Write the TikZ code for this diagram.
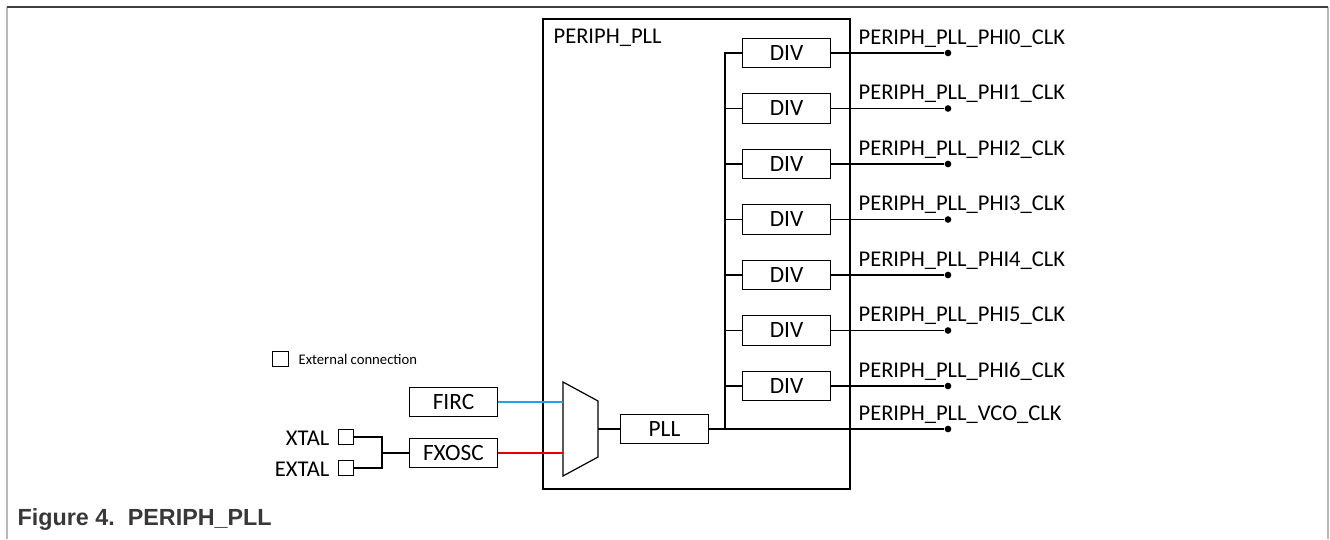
\documentclass[tikz,border=0pt]{standalone}
\usepackage{fontspec}
\setmainfont{Carlito}
\newfontfamily\capfont{Liberation Sans}
\usetikzlibrary{positioning}

\definecolor{fircblue}{RGB}{40,160,220}
\definecolor{oscred}{RGB}{230,0,0}

\begin{document}
\begin{tikzpicture}[x=0.75pt, y=-0.75pt, line width=0.9pt, node distance=41.625pt, on grid,
    txt/.style={inner sep=0pt, font=\fontsize{16.9}{18}\selectfont},
    blk/.style={draw, inner sep=0pt, font=\fontsize{17.5}{19}\selectfont, minimum width=66pt, minimum height=22pt},
    pad/.style={draw, inner sep=0pt, minimum size=11.6pt},
    lbl/.style={txt, anchor=base west},
    dot/.style={circle, fill, inner sep=0pt, minimum size=5pt}]
    \useasboundingbox (0,0) rectangle (1330,539);

    % page frame and caption
    \draw[gray!55, line width=1.4pt] (7,7) -- (7,539);
    \draw[gray!55, line width=1.4pt] (1328,7) -- (1328,539);
    \draw[black!75, line width=1.1pt] (7,7) -- (1328,7);
    \node[anchor=base west, inner sep=0pt, text=black!78,
          font=\capfont\bfseries\fontsize{17.5}{20}\selectfont] (caption) at (17,525) {Figure 4.\ \ PERIPH\_PLL};

    % PLL block
    \node[draw, inner sep=0pt, minimum width=230.25pt, minimum height=352.5pt] (periph) at (696.5,254) {};
    \node[lbl] (title) at (553,43) {PERIPH\_PLL};

    \node[blk] (div0) at (786.5,53) {DIV};
    \node[blk] (div1) [below=of div0] {DIV};
    \node[blk] (div2) [below=of div1] {DIV};
    \node[blk] (div3) [below=of div2] {DIV};
    \node[blk] (div4) [below=of div3] {DIV};
    \node[blk] (div5) [below=of div4] {DIV};
    \node[blk] (div6) [below=of div5] {DIV};

    \node[blk] (pll) at (664.5,429) {PLL};
    \coordinate (m1) at (563,382);
    \coordinate (m2) at (598,401);
    \coordinate (m3) at (598,457);
    \coordinate (m4) at (563,476);
    \draw (m1) -- (m2) -- (m3) -- (m4) -- cycle;
    \coordinate (muxout) at (598,429);
    \draw (muxout) -- (pll.west);

    % outputs
    \node[dot] (vco) at (948,429) {};
    \node[lbl] (vcolbl) at ([shift={(-90,-9)}]vco) {PERIPH\_PLL\_VCO\_CLK};
    \coordinate (bus) at (725,429);
    \draw (pll.east) -- (vco);
    \draw (bus) -- (bus |- div0.west) -- (div0.west);
    \foreach \k in {1,...,6}
        \draw (bus |- div\k.west) -- (div\k.west);
    \foreach \k in {0,...,6} {
        \node[dot] (o\k) at (div\k.east -| vco) {};
        \draw (div\k.east) -- (o\k);
        \node[lbl] (l\k) at ([shift={(-90,-9)}]o\k) {PERIPH\_PLL\_PHI\k\_CLK};
    }

    % sources
    \node[blk] (firc) at (453.5,402) {FIRC};
    \node[blk] (fxosc) at (453.5,453) {FXOSC};
    \draw[fircblue, line width=1pt] (firc.east) -- (firc.east -| m1);
    \draw[oscred, line width=1pt] (fxosc.east) -- (fxosc.east -| m1);

    \node[pad] (xtal) at (346,437) {};
    \node[pad] (extal) at (346,468) {};
    \node[txt, anchor=base east] (xtallbl) at (330,445) {XTAL};
    \node[txt, anchor=base east] (extallbl) at (330,476) {EXTAL};
    \coordinate (jn) at (382,453);
    \draw (xtal.east) -| (jn);
    \draw (extal.east) -| (jn);
    \draw (jn) -- (fxosc.west);

    % legend
    \node[pad] (legend) at (280.5,359) {};
    \node[anchor=base west, inner sep=0pt, font=\fontsize{11}{13}\selectfont] (legendlbl) at (298,364) {External connection};
\end{tikzpicture}
\end{document}
